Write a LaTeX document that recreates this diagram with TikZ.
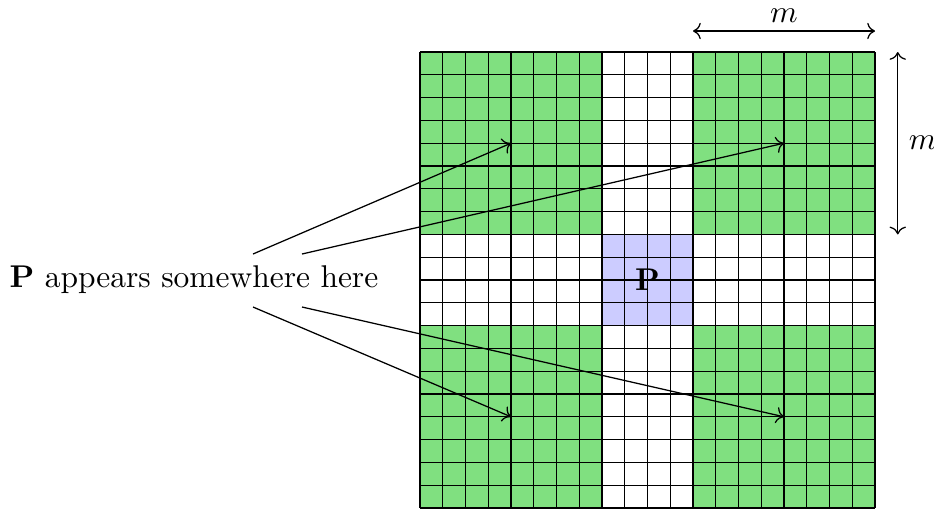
\documentclass[tikz,border=0pt]{standalone}
\usetikzlibrary{arrows.meta}
\definecolor{gfill}{RGB}{128,224,128}
\definecolor{bfill}{RGB}{204,204,255}
\begin{document}
\begin{tikzpicture}[x=0.318pt,y=-0.318pt,
  pointer/.style={->, black},
  dimarrow/.style={<->, black},
  gridline/.style={black, line width=0.36pt}]
\useasboundingbox (0,0) rectangle (934,511);
\begin{scope}[shift={(420,52)}, x=7.2345pt, y=-7.25pt]
  \fill[gfill] (0,0) rectangle (8,8);
  \fill[gfill] (12,0) rectangle (20,8);
  \fill[gfill] (0,12) rectangle (8,20);
  \fill[gfill] (12,12) rectangle (20,20);
  \fill[bfill] (8,8) rectangle (12,12);
  \foreach \i in {0,...,20} {
    \draw[gridline] (\i,0) -- (\i,20);
    \draw[gridline] (0,\i) -- (20,\i);
  }
  \node (P) at (10,10) {\textbf{P}};
  \coordinate (t1) at (4,4);
  \coordinate (t2) at (16,4);
  \coordinate (t3) at (4,16);
  \coordinate (t4) at (16,16);
  \coordinate (h1) at (12,-0.92);
  \coordinate (h2) at (20,-0.92);
  \coordinate (v1) at (21,0);
  \coordinate (v2) at (21,8);
\end{scope}
\node (lab) at (194,280) {\textbf{P} appears somewhere here};
\coordinate (s1) at (253,254);
\coordinate (s2) at (302,254);
\coordinate (s3) at (253,307);
\coordinate (s4) at (302,307);
\draw[pointer] (s1) -- (t1);
\draw[pointer] (s2) -- (t2);
\draw[pointer] (s3) -- (t3);
\draw[pointer] (s4) -- (t4);
\draw[dimarrow] (h1) -- node[above, inner sep=2.5pt] {$m$} (h2);
\draw[dimarrow] (v1) -- node[right] {$m$} (v2);
\end{tikzpicture}
\end{document}
